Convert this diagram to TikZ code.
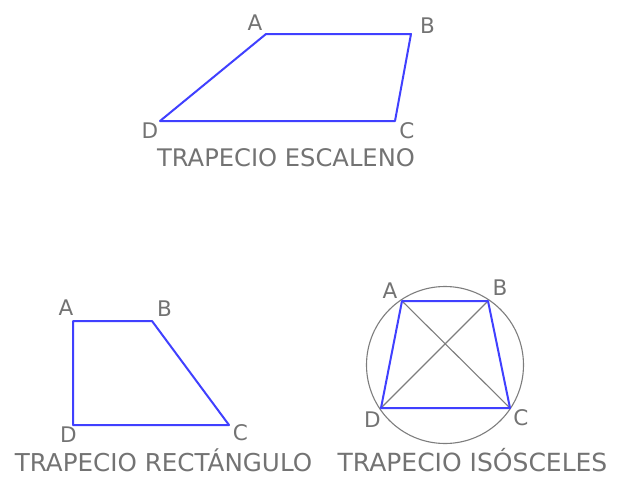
\documentclass[tikz,border=0pt]{standalone}
\usepackage{fontspec}
\setmainfont{DejaVu Sans}
\begin{document}
\begin{tikzpicture}[x=1pt,y=-1pt,
  side/.style={draw=blueline,line width=2pt,line join=round},
  greystroke/.style={draw=greyline,line width=1.1pt},
  lbl/.style={text=greytext,inner sep=0pt,font=\fontsize{21.5}{24}\selectfont},
  captxt/.style={text=greytext,inner sep=0pt,anchor=base}]
\definecolor{blueline}{RGB}{64,64,255}
\definecolor{greyline}{RGB}{125,125,125}
\definecolor{greytext}{RGB}{115,115,115}
\useasboundingbox (0,0) rectangle (624,477);
% Top: escaleno
\coordinate (tA) at (266,34);
\coordinate (tB) at (411,34);
\coordinate (tC) at (395,121);
\coordinate (tD) at (160,121);
\draw[side] (tA) -- (tB) -- (tC) -- (tD) -- cycle;
\node[lbl] (ltA) at (255,22.5) {A};
\node[lbl] (ltB) at (427.5,26) {B};
\node[lbl] (ltC) at (407,130.5) {C};
\node[lbl] (ltD) at (150,131) {D};
\node[captxt,font=\fontsize{24.2}{28}\selectfont] (capT) at (286,166) {TRAPECIO ESCALENO};
% Bottom left: rectangulo
\coordinate (rA) at (73,321);
\coordinate (rB) at (152,321);
\coordinate (rC) at (229,425);
\coordinate (rD) at (73,425);
\draw[side] (rA) -- (rB) -- (rC) -- (rD) -- cycle;
\node[lbl] (lrA) at (66,307.5) {A};
\node[lbl] (lrB) at (164.5,309) {B};
\node[lbl] (lrC) at (240.5,433) {C};
\node[lbl] (lrD) at (68.5,434.5) {D};
\node[captxt,font=\fontsize{24.6}{28}\selectfont] (capR) at (163.5,471) {TRAPECIO RECTÁNGULO};
% Bottom right: isosceles
\coordinate (O) at (445,365);
\coordinate (iA) at (402,301);
\coordinate (iB) at (488,301);
\coordinate (iC) at (510,408);
\coordinate (iD) at (381,408);
\draw[greystroke] (O) circle[radius=78.5];
\draw[greystroke] (iA) -- (iC);
\draw[greystroke] (iB) -- (iD);
\draw[side] (iA) -- (iB) -- (iC) -- (iD) -- cycle;
\node[lbl] (liA) at (390,291) {A};
\node[lbl] (liB) at (500,287.5) {B};
\node[lbl] (liC) at (521,418) {C};
\node[lbl] (liD) at (372.5,419.5) {D};
\node[captxt,font=\fontsize{25}{28}\selectfont] (capI) at (472.5,471) {TRAPECIO ISÓSCELES};
\end{tikzpicture}
\end{document}
